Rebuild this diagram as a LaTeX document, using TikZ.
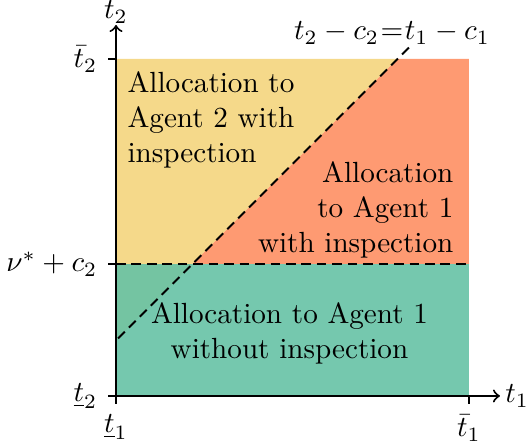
\documentclass[tikz,border=0pt]{standalone}
\usepackage{amsmath}
\usepackage{amssymb}
\usepackage{tikz}
\usetikzlibrary{positioning,calc}
\definecolor{ink}     {HTML}{000000}
\definecolor{straw}   {HTML}{F5D98A}
\definecolor{salmon}  {HTML}{FE9A72}
\definecolor{seafoam} {HTML}{66C2A5}
\tikzset{
  every node/.style={font=\normalsize},
  % --- areas
  yel/.style   = {fill=straw},
  org/.style   = {fill=salmon},
  grn/.style   = {fill=seafoam, fill opacity=0.9},
  % --- lines
  axis/.style  = {->, line width=0.7pt, draw=ink},
  tick/.style  = {line width=0.7pt, draw=ink},
  bnd/.style   = {line width=0.7pt, draw=ink, dash pattern=on 3.3pt off 2pt},
  txt/.style   = {inner sep=0pt, text=ink},
}
\begin{document}
\begin{tikzpicture}[x=0.343pt,y=0.343pt]
  \useasboundingbox (-116,-48) rectangle (410,396);
  % regions
  \fill[yel] (0,55.5) -- (0,337) -- (281.5,337) -- cycle;
  \fill[org] (76.5,132) -- (281.5,337) -- (353,337) -- (353,132) -- cycle;
  \fill[grn] (0,0) rectangle (353,132);
  % boundaries
  \coordinate (dlo) at (2,57.5);
  \coordinate (dhi) at (294,349.5);
  \coordinate (hlo) at (0,132);
  \coordinate (hhi) at (353,132);
  \draw[bnd] (dlo) -- (dhi);
  \draw[bnd] (hlo) -- (hhi);
  \node (eqn) at (276,363) {$t_2 - c_2 \mkern1mu{=}\mkern1mu t_1 - c_1$};
  % axes
  \coordinate (o) at (0,0);
  \coordinate (xend) at (384,0);
  \coordinate (yend) at (0,371);
  \draw[axis] (o) -- (xend) node[right, inner sep=1.5pt] (xlab) {$t_1$};
  \draw[axis] (o) -- (yend) node[above, inner sep=0.3pt] (ylab) {$t_2$};
  \foreach \yy/\nm/\tx in {0/ylo/$\underline{t}_2$, 132/ymid/$\nu^*+c_2$, 337/yhi/$\bar{t}_2$} {
    \coordinate (\nm) at (0,\yy);
    \draw[tick] (\nm) -- ++(-8,0) node[left] (\nm lab) {\tx};
  }
  \foreach \xx/\nm/\tx in {0/xlo/$\underline{t}_1$, 353/xhi/$\bar{t}_1$} {
    \coordinate (\nm) at (\xx,0);
    \draw[tick] (\nm) -- ++(0,-8) node[below] (\nm lab) {\tx};
  }
  % region texts
  \node[txt, anchor=north west, align=left] (ag2) at (11,325)
    {Allocation to\\Agent 2 with\\inspection};
  \node[txt, anchor=north east, align=right] (ag1i) at (338,235)
    {Allocation\\to Agent 1\\with inspection};
  \node[txt, anchor=north, align=center] (ag1n) at (173.5,94)
    {Allocation to Agent 1\\without inspection};
\end{tikzpicture}
\end{document}
